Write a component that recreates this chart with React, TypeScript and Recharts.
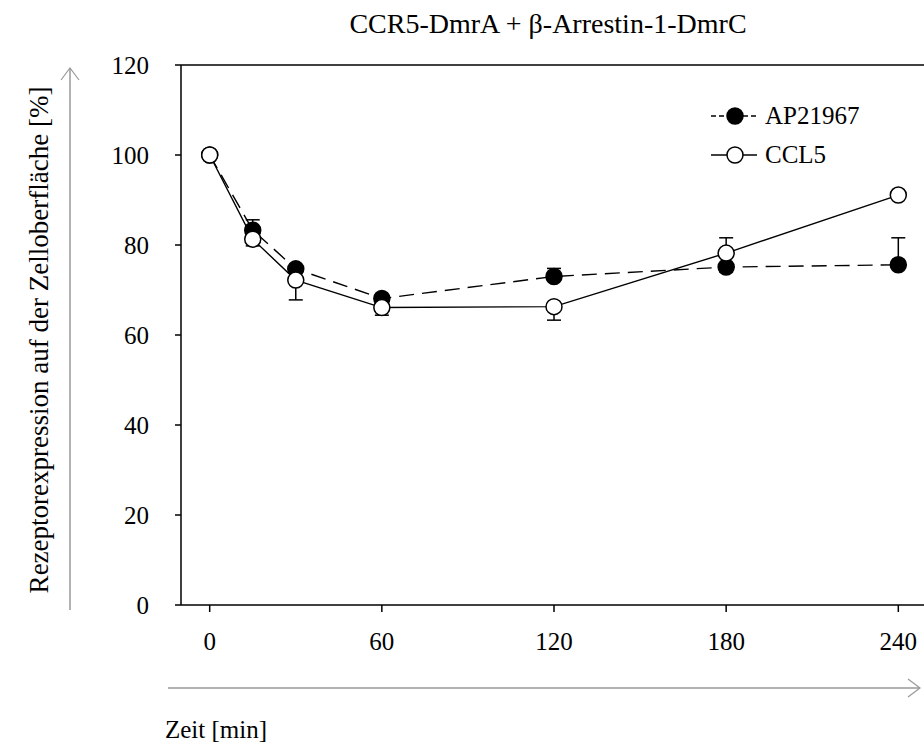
import { ErrorBar, Legend, Line, LineChart, ReferenceLine, XAxis, YAxis } from "recharts";

// Zeitpunkte [min]
const times = [0, 15, 30, 60, 120, 180, 240];

// AP21967 (gefüllte Kreise, gestrichelt)
const ap21967 = [100, 83.3, 74.7, 68.1, 73.0, 75.1, 75.6];
const ap21967Err = [[0, 0], [0, 2.3], [0, 0], [0, 0], [0, 1.8], [1.1, 0], [0, 6.0]];

// CCL5 (offene Kreise, durchgezogen)
const ccl5 = [100, 81.3, 72.2, 66.1, 66.3, 78.2, 91.1];
const ccl5Err = [[0, 0], [1.5, 0], [4.4, 0], [1.7, 0], [3.0, 0], [0, 3.4], [0, 0]];

const xTicks = [0, 60, 120, 180, 240];
const yTicks = [0, 20, 40, 60, 80, 100, 120];

const FONT = "'Liberation Serif', 'DejaVu Serif', serif";

const chartData = times.map((t, i) => ({
    time: t,
    ap: ap21967[i],
    apErr: ap21967Err[i],
    ccl5: ccl5[i],
    ccl5Err: ccl5Err[i],
}));

const renderLegend = () => (
    <svg width={200} height={80} style={{display: "block"}}>
        <line x1={6} y1={16} x2={52} y2={16} stroke="#000" strokeWidth={1.4} strokeDasharray="5 3"/>
        <circle cx={30} cy={16} r={8} fill="#000" stroke="#000" strokeWidth={1.5}/>
        <text x={60} y={24} fontFamily={FONT} fontSize={25} fill="#000">AP21967</text>
        <line x1={6} y1={55} x2={52} y2={55} stroke="#000" strokeWidth={1.4}/>
        <circle cx={30} cy={55} r={8} fill="#fff" stroke="#000" strokeWidth={1.5}/>
        <text x={60} y={63} fontFamily={FONT} fontSize={25} fill="#000">CCL5</text>
    </svg>
);

export default function App() {
    return (
        <div style={{position: "absolute", left: 0, top: 0, width: 924, height: 744, overflow: "hidden", background: "#fff"}}>
            <LineChart
                width={930}
                height={744}
                data={chartData}
                margin={{top: 65, right: 3, bottom: 99, left: 81}}
            >
                <XAxis
                    dataKey="time"
                    type="number"
                    domain={[-10, 250]}
                    ticks={xTicks}
                    tickSize={7}
                    tickMargin={20}
                    height={40}
                    axisLine={{stroke: "#000", strokeWidth: 1.5}}
                    tickLine={{stroke: "#000", strokeWidth: 1.5}}
                    tick={{fill: "#000", fontSize: 25, fontFamily: FONT}}
                    allowDataOverflow
                />
                <YAxis
                    type="number"
                    domain={[0, 120]}
                    ticks={yTicks}
                    tickSize={6}
                    tickMargin={26}
                    width={100}
                    axisLine={{stroke: "#000", strokeWidth: 1.5}}
                    tickLine={{stroke: "#000", strokeWidth: 1.5}}
                    tick={{fill: "#000", fontSize: 25, fontFamily: FONT}}
                />
                <ReferenceLine y={120} stroke="#000" strokeWidth={1.5}/>
                <Legend
                    layout="horizontal"
                    verticalAlign="middle"
                    align="center"
                    content={renderLegend}
                    wrapperStyle={{left: 705, top: 100, width: 200}}
                />
                <Line
                    type="linear"
                    dataKey="ap"
                    name="AP21967"
                    stroke="#000"
                    strokeWidth={1.4}
                    strokeDasharray="15 8"
                    dot={{r: 8, fill: "#000", stroke: "#000", strokeWidth: 1.5, strokeDasharray: "none"}}
                    isAnimationActive={false}
                >
                    <ErrorBar dataKey="apErr" direction="y" width={7} stroke="#000" strokeWidth={1.5}/>
                </Line>
                <Line
                    type="linear"
                    dataKey="ccl5"
                    name="CCL5"
                    stroke="#000"
                    strokeWidth={1.4}
                    dot={{r: 8, fill: "#fff", stroke: "#000", strokeWidth: 1.5}}
                    isAnimationActive={false}
                >
                    <ErrorBar dataKey="ccl5Err" direction="y" width={7} stroke="#000" strokeWidth={1.5}/>
                </Line>
            </LineChart>
            {/* Titel, Achsentitel und Pfeile */}
            <svg width={924} height={744} style={{position: "absolute", left: 0, top: 0, pointerEvents: "none"}}>
                <text x={548} y={33} textAnchor="middle" fontFamily={FONT} fontSize={28} fill="#000">
                    {"CCR5-DmrA  +  β-Arrestin-1-DmrC"}
                </text>
                <text
                    transform="translate(48, 340) rotate(-90)"
                    textAnchor="middle"
                    fontFamily={FONT}
                    fontSize={27}
                    fill="#000"
                >
                    Rezeptorexpression auf der Zelloberfläche [%]
                </text>
                <text x={165} y={738} fontFamily={FONT} fontSize={25} fill="#000">Zeit [min]</text>
                <line x1={70} y1={610} x2={70} y2={68} stroke="#999" strokeWidth={1.5}/>
                <polyline points="61,80 70,68 79,80" fill="none" stroke="#999" strokeWidth={1.2}/>
                <line x1={168} y1={688} x2={920} y2={688} stroke="#999" strokeWidth={1.5}/>
                <polyline points="908,679 920,688 908,697" fill="none" stroke="#999" strokeWidth={1.2}/>
            </svg>
        </div>
    );
}
